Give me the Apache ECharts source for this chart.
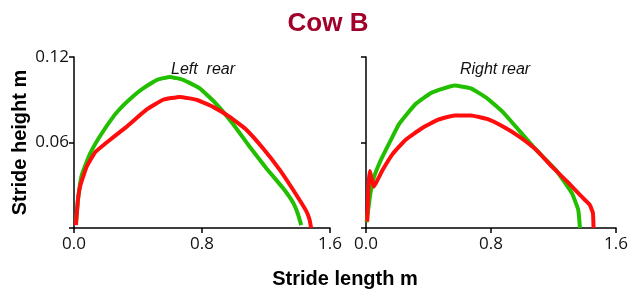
<!DOCTYPE html>
<html>
<head>
<meta charset="utf-8">
<script src="https://cdn.jsdelivr.net/npm/echarts@6/dist/echarts.min.js"></script>
<style>
  html, body { margin: 0; padding: 0; background: #fff; }
  #chart { width: 631px; height: 289px; }
</style>
</head>
<body>
<div id="chart"></div>
<script>
// stride paths, [length m, height m]
const leftGreen = [
  [0.012, 0.003], [0.025, 0.020], [0.048, 0.037], [0.1, 0.052], [0.16, 0.064], [0.245, 0.078],
  [0.308, 0.086], [0.375, 0.093], [0.432, 0.098], [0.52, 0.104], [0.599, 0.106],
  [0.682, 0.104], [0.786, 0.098], [0.89, 0.087], [0.994, 0.073], [1.098, 0.057],
  [1.202, 0.042], [1.306, 0.028], [1.368, 0.018], [1.399, 0.010], [1.42, 0.002]
]
const leftRed = [
  [0.012, 0.002], [0.025, 0.020], [0.04, 0.030], [0.079, 0.043], [0.131, 0.053], [0.204, 0.060],
  [0.328, 0.071], [0.453, 0.083], [0.557, 0.090], [0.661, 0.092], [0.765, 0.090],
  [0.869, 0.085], [0.973, 0.078], [1.077, 0.069], [1.181, 0.056], [1.285, 0.041],
  [1.368, 0.027], [1.451, 0.012], [1.472, 0.006], [1.482, 0]
]
const rightGreen = [
  [0.004, 0.004], [0.025, 0.022], [0.046, 0.034], [0.088, 0.046], [0.16, 0.062],
  [0.2125, 0.073], [0.317, 0.087], [0.42, 0.095], [0.567, 0.100], [0.671, 0.098],
  [0.775, 0.091], [0.879, 0.081], [0.983, 0.068], [1.0875, 0.055], [1.2125, 0.041],
  [1.317, 0.0245], [1.358, 0.0128], [1.369, 0]
]
const rightRed = [
  [0.008, 0.0046], [0.016, 0.030], [0.025, 0.040], [0.035, 0.035], [0.05, 0.029],
  [0.075, 0.034], [0.108, 0.041], [0.171, 0.052], [0.254, 0.062], [0.358, 0.070],
  [0.4625, 0.076], [0.567, 0.079], [0.671, 0.079], [0.775, 0.0765], [0.879, 0.071],
  [0.983, 0.064], [1.0875, 0.055], [1.19, 0.043], [1.296, 0.0316], [1.38, 0.022],
  [1.431, 0.0164], [1.452, 0.0105], [1.456, 0]
]
const panelTitles = ['Left  rear', 'Right rear']

const GREEN = '#22bf00'
const RED = '#ff0d0d'
const tickFont = { fontFamily: 'Open Sans', fontSize: 17, color: '#111' }

const myChart = echarts.init(document.getElementById('chart'))

const xAxisBase = {
  type: 'value',
  min: 0,
  max: 1.6,
  interval: 0.8,
  axisLine: { lineStyle: { color: '#000', width: 1.5 } },
  axisTick: { length: 5, lineStyle: { color: '#000', width: 1.5 } },
  axisLabel: { ...tickFont, margin: 8, formatter: v => v.toFixed(1) },
  splitLine: { show: false }
}
const yAxisBase = {
  type: 'value',
  min: 0,
  max: 0.12,
  interval: 0.06,
  axisLine: { show: true, lineStyle: { color: '#000', width: 1.5 } },
  axisTick: { show: true, length: 5, lineStyle: { color: '#000', width: 1.5 } },
  splitLine: { show: false }
}
const lineBase = {
  type: 'line',
  showSymbol: false,
  smooth: 0.12,
  clip: false,
  animation: false
}
const subStyle = { fontFamily: 'Liberation Sans', fontStyle: 'italic', fontWeight: 'normal', fontSize: 16, color: '#111' }

myChart.setOption({
  title: [
    {
      text: 'Cow B', left: 323, top: 6, textAlign: 'center',
      textStyle: { fontFamily: 'Liberation Sans', fontWeight: 'bold', fontSize: 26, color: '#a0002a' }
    },
    { text: panelTitles[0], left: 198, top: 57, textAlign: 'center', textStyle: subStyle },
    { text: panelTitles[1], left: 490, top: 57, textAlign: 'center', textStyle: subStyle },
    {
      text: 'Stride length m', left: 340, top: 264, textAlign: 'center',
      textStyle: { fontFamily: 'Liberation Sans', fontWeight: 'bold', fontSize: 20, color: '#000' }
    }
  ],
  grid: [
    { left: 74, top: 57, width: 256, height: 171 },
    { left: 366, top: 57, width: 256, height: 171 }
  ],
  xAxis: [
    { ...xAxisBase, gridIndex: 0 },
    { ...xAxisBase, gridIndex: 1 }
  ],
  yAxis: [
    {
      ...yAxisBase,
      gridIndex: 0,
      name: 'Stride height m',
      nameLocation: 'middle',
      nameRotate: 90,
      nameGap: 44,
      nameTextStyle: { fontFamily: 'Liberation Sans', fontWeight: 'bold', fontSize: 20, color: '#000' },
      axisLabel: {
        ...tickFont, margin: 5,
        formatter: v => (v === 0 ? '' : v.toFixed(2))
      }
    },
    { ...yAxisBase, gridIndex: 1, axisLabel: { show: false } }
  ],
  series: [
    { ...lineBase, xAxisIndex: 0, yAxisIndex: 0, data: leftGreen, lineStyle: { color: GREEN, width: 4 } },
    { ...lineBase, xAxisIndex: 0, yAxisIndex: 0, data: leftRed, lineStyle: { color: RED, width: 4 } },
    { ...lineBase, xAxisIndex: 1, yAxisIndex: 1, data: rightGreen, lineStyle: { color: GREEN, width: 4 } },
    { ...lineBase, xAxisIndex: 1, yAxisIndex: 1, data: rightRed, lineStyle: { color: RED, width: 4 } }
  ]
})
</script>
</body>
</html>
